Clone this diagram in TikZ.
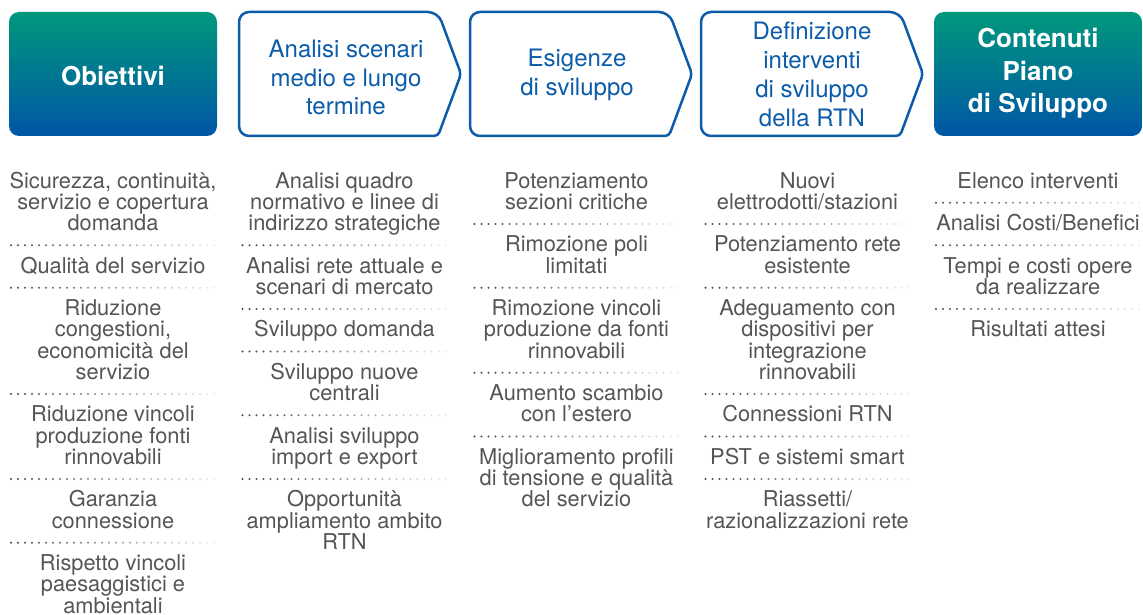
\documentclass[tikz,border=0pt]{standalone}
\usepackage{fontspec}
\setmainfont{TeX Gyre Heros}
\definecolor{boxblue}{RGB}{12,92,170}
\definecolor{gtop}{RGB}{0,152,124}
\definecolor{gbot}{RGB}{0,86,166}
\definecolor{bodygray}{RGB}{85,85,85}
\tikzset{
  body/.style={font=\fontsize{21.8}{21.25}\selectfont, text=bodygray, anchor=base, inner sep=0pt},
  headtxt/.style={font=\fontsize{24}{29}\selectfont, text=boxblue, anchor=base, inner sep=0pt},
  boldtxt/.style={font=\bfseries\fontsize{26}{32}\selectfont, text=white, anchor=base, inner sep=0pt},
  gradbox/.style={rounded corners=10pt, top color=gtop, bottom color=gbot, draw=none},
  arrowshape/.style={draw=boxblue, line width=2.5pt, fill=white, line join=round},
}
\def\dotsmark{-}
% #1 name prefix, #2 centre x, #3 list of lines ("-" = dotted separator)
\newcommand\colitems[3]{%
  \foreach \t [count=\i from 0] in {#3} {%
    \ifx\t\dotsmark
      \foreach \k [evaluate=\k as \sh using 72-\k*2.2] in {0,...,29}
        \fill[black!\sh] ({#2-102+\k*7}, {181.5+21.25*\i}) circle (1.1pt);
    \else
      \node[body] (#1-\i) at (#2, {188+21.25*\i}) {\t};
    \fi
  }%
}
% #1 name, #2 x, #3 first baseline, #4 spacing, #5 style, #6 lines
\newcommand\headlines[6]{%
  \foreach \t [count=\i from 0] in {#6} {%
    \node[#5] (#1-\i) at (#2, {#3+#4*\i}) {\t};
  }%
}
\newcommand\arrowbox[2]{% #1 name, #2 left x
  \draw[arrowshape] ({#2+100},136) [rounded corners=10pt] -- (#2,136) -- (#2,12) -- ({#2+199},12)
     [rounded corners=4pt] -- ({#2+222},74) coordinate (#1-tip) -- ({#2+199},136) -- cycle;
}
\begin{document}
\begin{tikzpicture}[x=1pt,y=-1pt]
\useasboundingbox (0,0) rectangle (1143,615);

% header boxes
\path[gradbox] (9,12) rectangle (217,136);
\node[boldtxt] (obiettivi) at (113,86) {Obiettivi};

\arrowbox{b2}{239}
\headlines{h2}{346}{58}{28.5}{headtxt}{{Analisi scenari},{medio e lungo},{termine}}

\arrowbox{b3}{470}
\headlines{h3}{577}{66.5}{29}{headtxt}{{Esigenze},{di sviluppo}}

\arrowbox{b4}{701}
\headlines{h4}{812}{39.5}{29}{headtxt}{{Definizione},{interventi},{di sviluppo},{della RTN}}

\path[gradbox] (934,12) rectangle (1142,136);
\headlines{h5}{1038}{48}{32.5}{boldtxt}{{Contenuti},{Piano},{di Sviluppo}}

% columns
\colitems{c1}{113}{{Sicurezza, continuità,},{servizio e copertura},{domanda},-,{Qualità del servizio},-,{Riduzione},{congestioni,},{economicità del},{servizio},-,{Riduzione vincoli},{produzione fonti},{rinnovabili},-,{Garanzia},{connessione},-,{Rispetto vincoli},{paesaggistici e},{ambientali}}

\colitems{c2}{344.5}{{Analisi quadro},{normativo e linee di},{indirizzo strategiche},-,{Analisi rete attuale e},{scenari di mercato},-,{Sviluppo domanda},-,{Sviluppo nuove},{centrali},-,{Analisi sviluppo},{import e export},-,{Opportunità},{ampliamento ambito},{RTN}}

\colitems{c3}{576.5}{{Potenziamento},{sezioni critiche},-,{Rimozione poli},{limitati},-,{Rimozione vincoli},{produzione da fonti},{rinnovabili},-,{Aumento scambio},{con l’estero},-,{Miglioramento profili},{di tensione e qualità},{del servizio}}

\colitems{c4}{807.5}{{Nuovi},{elettrodotti/stazioni},-,{Potenziamento rete},{esistente},-,{Adeguamento con},{dispositivi per},{integrazione},{rinnovabili},-,{Connessioni RTN},-,{PST e sistemi smart},-,{Riassetti/},{razionalizzazioni rete}}

\colitems{c5}{1038}{{Elenco interventi},-,{Analisi Costi/Benefici},-,{Tempi e costi opere},{da realizzare},-,{Risultati attesi}}
\end{tikzpicture}
\end{document}
